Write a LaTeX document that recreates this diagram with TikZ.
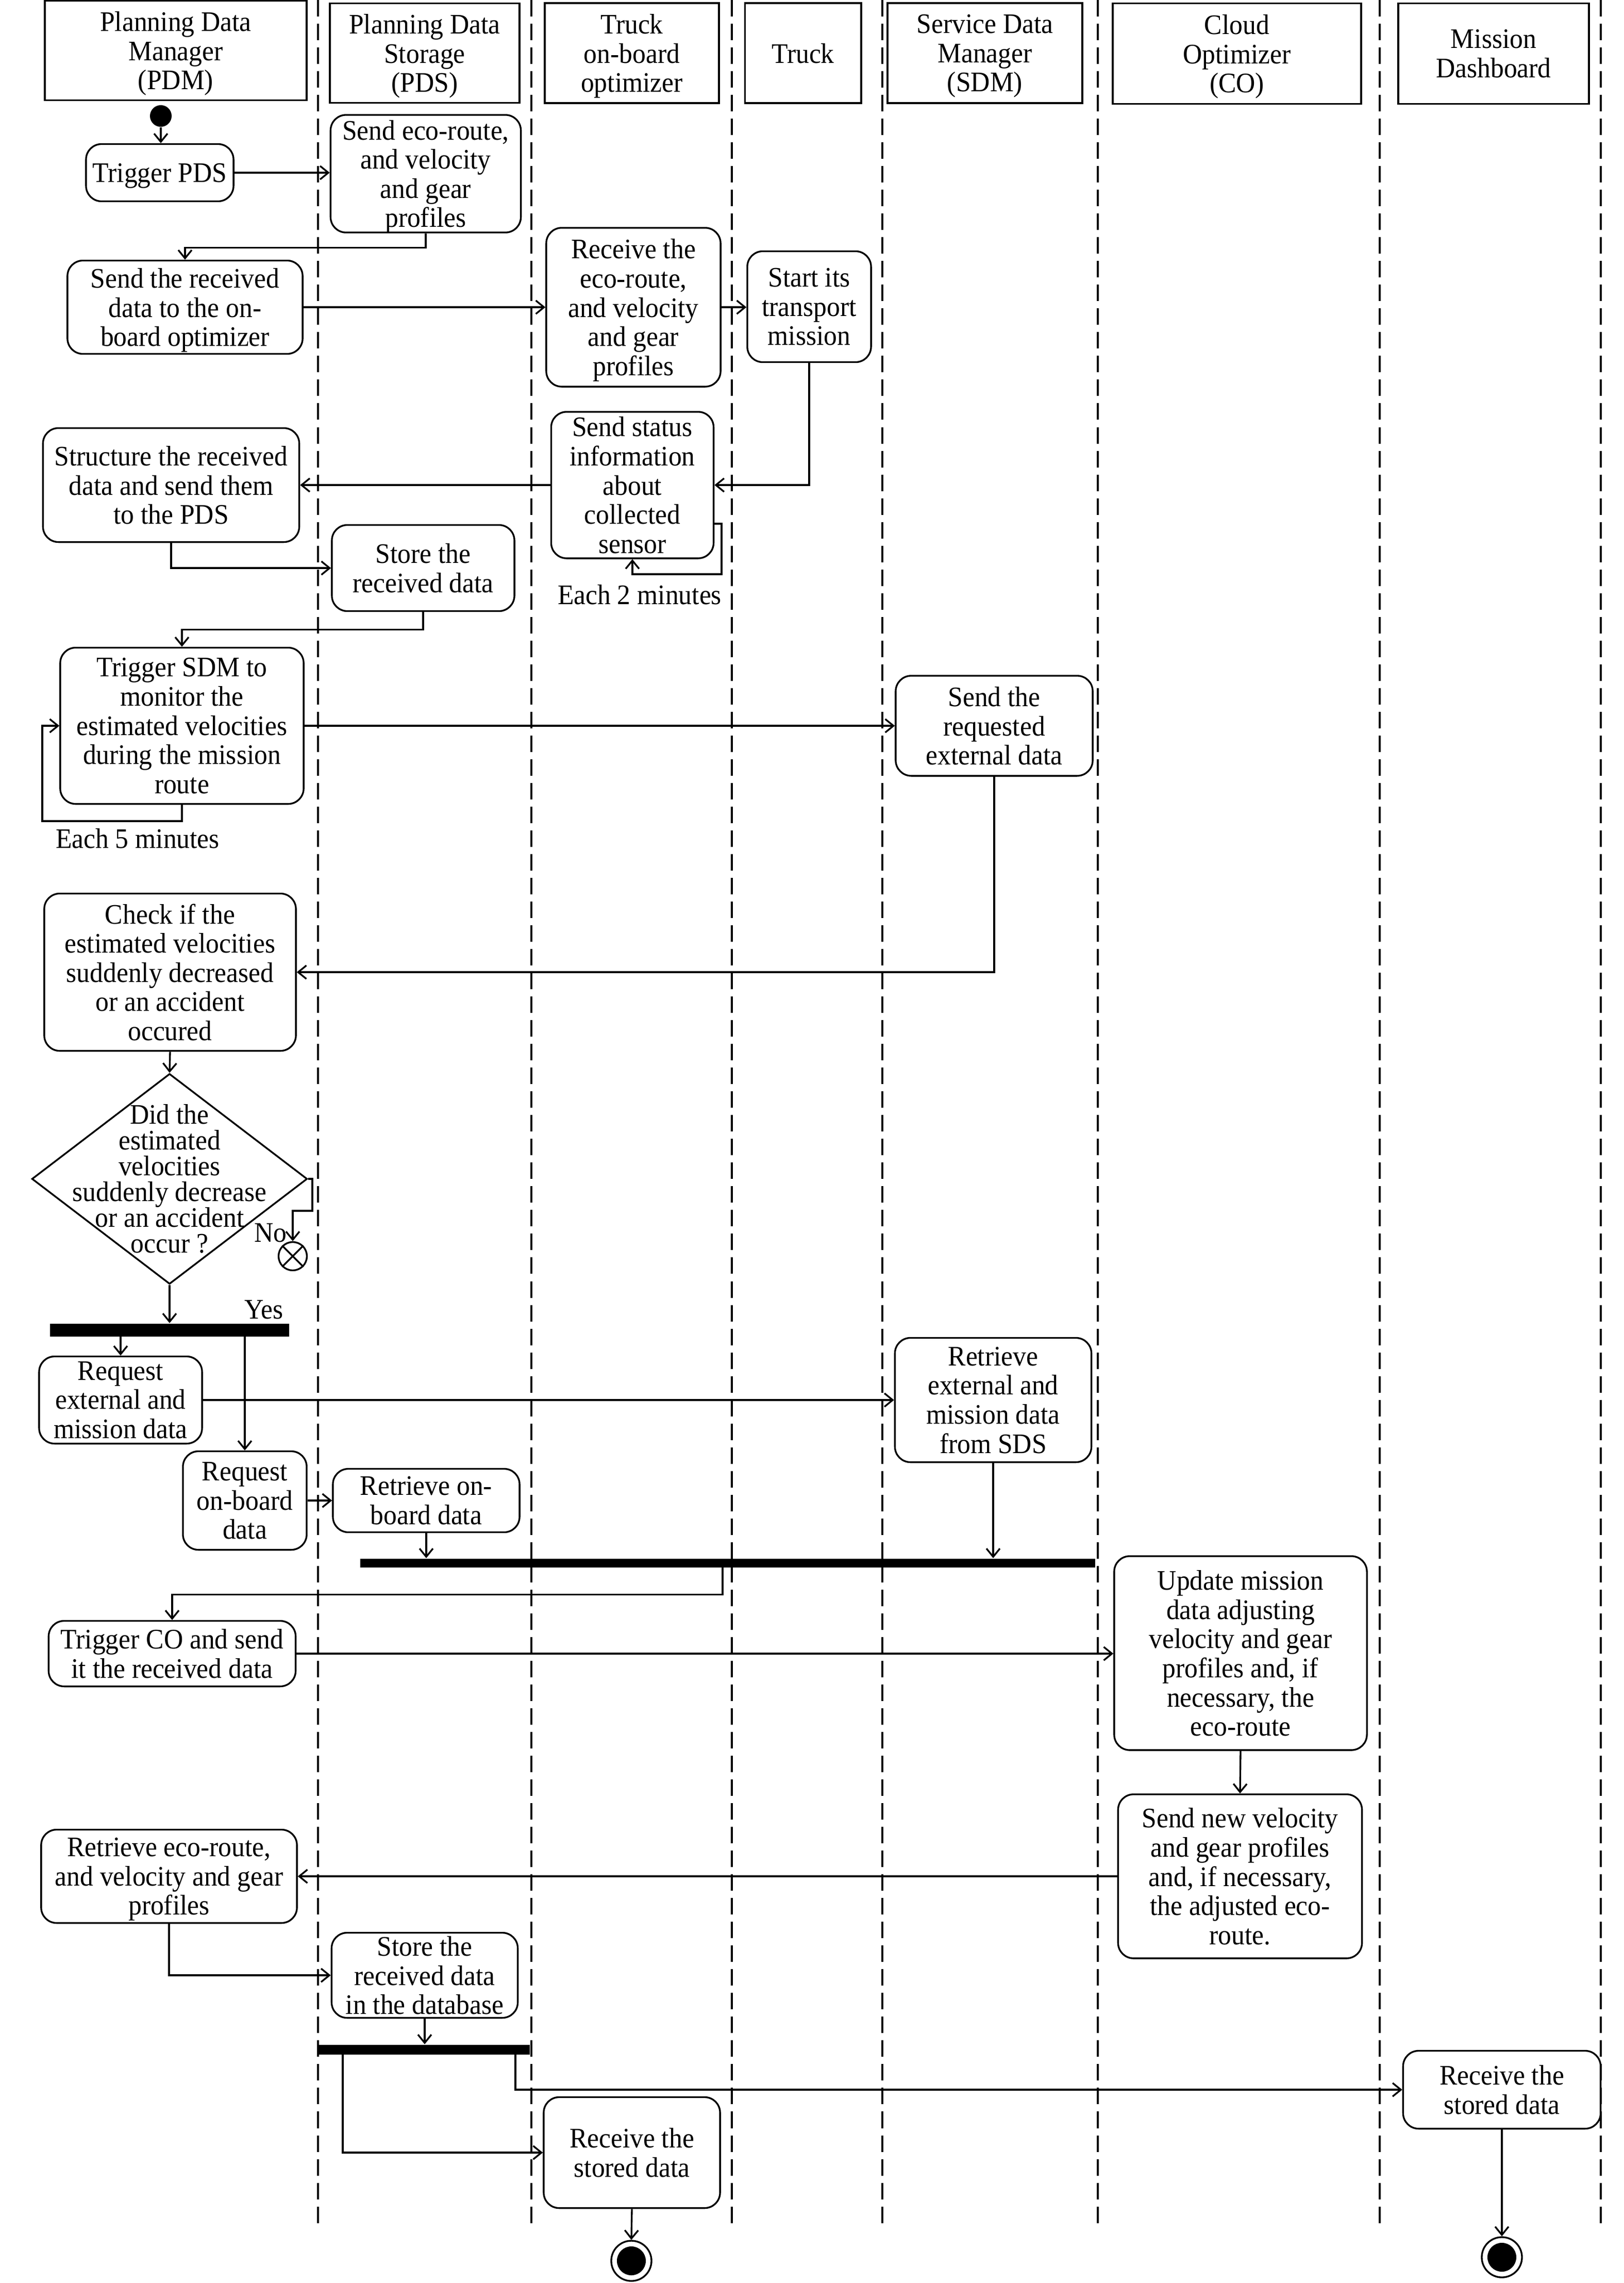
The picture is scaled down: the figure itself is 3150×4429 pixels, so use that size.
\documentclass[tikz,border=0pt]{standalone}
\usepackage{fontspec}
\setmainfont{Liberation Serif}[FakeStretch=0.94]
\usetikzlibrary{arrows.meta,shapes.geometric,calc}
\newcommand{\myfs}{\fontsize{15.6}{16.1}\selectfont}
\newcommand{\myfsd}{\fontsize{15.6}{14.2}\selectfont}
\tikzset{
  lane/.style={dash pattern=on 0.32cm off 0.14cm, line width=1.3pt},
  hdr/.style={draw, line width=1.1pt, align=center, inner sep=0pt, font=\myfs, text depth=0pt},
  act/.style={draw, rounded corners=0.3cm, line width=0.95pt, align=center, inner sep=0pt, font=\myfs, text depth=0pt},
  arr/.style={line width=0.95pt, -{Straight Barb[length=1.6mm,width=2.6mm]}},
  bar/.style={fill=black, draw=none, inner sep=0pt},
  lbl/.style={font=\myfs, inner sep=0pt},
}
\begin{document}
\begin{tikzpicture}[x=0.01cm,y=-0.01cm]
\useasboundingbox (0,0) rectangle (3150,4429);

% swimlane separators
\foreach \lx in {617,1031,1420,1712,2130,2677,3106}
  \draw[lane] (\lx,0) -- (\lx,4325);

% headers
\node[hdr, minimum width=5.08cm, minimum height=1.93cm] (hPDM) at (341,98) {Planning Data\\Manager\\(PDM)};
\node[hdr, minimum width=3.68cm, minimum height=1.93cm] (hPDS) at (824,103) {Planning Data\\Storage\\(PDS)};
\node[hdr, minimum width=3.38cm, minimum height=1.94cm] (hTO) at (1226,103) {Truck\\on-board\\optimizer};
\node[hdr, minimum width=2.25cm, minimum height=1.94cm] (hTR) at (1558,103) {Truck};
\node[hdr, minimum width=3.78cm, minimum height=1.94cm] (hSDM) at (1911,103) {Service Data\\Manager\\(SDM)};
\node[hdr, minimum width=4.81cm, minimum height=1.95cm] (hCO) at (2400,104) {Cloud\\Optimizer\\(CO)};
\node[hdr, minimum width=3.70cm, minimum height=1.95cm] (hMD) at (2898,104) {Mission\\Dashboard};

% start
\node[circle, fill=black, inner sep=0pt, minimum size=0.42cm] (start) at (312,225) {};

% activities
\node[act, minimum width=2.86cm, minimum height=1.11cm] (a1) at (310,335) {Trigger PDS};
\node[act, minimum width=3.69cm, minimum height=2.28cm] (a2) at (826,337) {Send eco-route,\\and velocity\\and gear\\profiles};
\node[act, minimum width=4.56cm, minimum height=1.81cm] (a3) at (359,596) {Send the received\\data to the on-\\board optimizer};
\node[act, minimum width=3.38cm, minimum height=3.08cm] (a4) at (1229,596) {Receive the\\eco-route,\\and velocity\\and gear\\profiles};
\node[act, minimum width=2.40cm, minimum height=2.15cm] (a5) at (1570,595) {Start its\\transport\\mission};
\node[act, minimum width=3.15cm, minimum height=2.84cm] (a6) at (1227,941) {Send status\\information\\about\\collected\\sensor};
\node[act, minimum width=4.97cm, minimum height=2.21cm] (a7) at (332,941) {Structure the received\\data and send them\\to the PDS};
\node[act, minimum width=3.54cm, minimum height=1.67cm] (a8) at (821,1102) {Store the\\received data};
\node[act, minimum width=4.72cm, minimum height=3.03cm] (a9) at (353,1408) {Trigger SDM to\\monitor the\\estimated velocities\\during the mission\\route};
\node[act, minimum width=3.82cm, minimum height=1.94cm] (a10) at (1929,1408) {Send the\\requested\\external data};
\node[act, minimum width=4.88cm, minimum height=3.05cm] (a11) at (330,1886) {Check if the\\estimated velocities\\suddenly decreased\\or an accident\\occured};

% decision
\node[diamond, draw, line width=0.95pt, inner sep=0pt, minimum width=5.34cm, minimum height=4.08cm,
      label={[font=\myfsd, align=center, inner sep=0pt]center:{Did the\\estimated\\velocities\\suddenly decrease\\or an accident\\occur ?}}] (d1) at (329,2287) {};
\node[circle, draw, line width=0.95pt, inner sep=0pt, minimum size=0.55cm] (ff) at (568,2437) {};
\draw[line width=0.95pt] (ff.north west) -- (ff.south east) (ff.north east) -- (ff.south west);

\node[bar, minimum width=4.64cm, minimum height=0.25cm] (bar1) at (329,2580) {};
\node[act, minimum width=3.16cm, minimum height=1.69cm] (a12) at (234,2716) {Request\\external and\\mission data};
\node[act, minimum width=2.40cm, minimum height=1.91cm] (a13) at (475,2911) {Request\\on-board\\data};
\node[act, minimum width=3.62cm, minimum height=1.23cm] (a14) at (827,2911) {Retrieve on-\\board data};
\node[act, minimum width=3.81cm, minimum height=2.41cm] (a15) at (1927,2716) {Retrieve\\external and\\mission data\\from SDS};
\node[bar, minimum width=14.25cm, minimum height=0.17cm] (bar2) at (1412,3032) {};
\node[act, minimum width=4.79cm, minimum height=1.27cm] (a16) at (334,3208) {Trigger CO and send\\it the received data};
\node[act, minimum width=4.90cm, minimum height=3.76cm] (a17) at (2407,3207) {Update mission\\data adjusting\\velocity and gear\\profiles and, if\\necessary, the\\eco-route};
\node[act, minimum width=4.73cm, minimum height=3.18cm] (a18) at (2406,3640) {Send new velocity\\and gear profiles\\and, if necessary,\\the adjusted eco-\\route.};
\node[act, minimum width=4.96cm, minimum height=1.81cm] (a19) at (328,3640) {Retrieve eco-route,\\and velocity and gear\\profiles};
\node[act, minimum width=3.61cm, minimum height=1.65cm] (a20) at (824,3832) {Store the\\received data\\in the database};
\node[bar, minimum width=4.11cm, minimum height=0.19cm] (bar3) at (822,3976) {};
\node[act, minimum width=3.42cm, minimum height=2.15cm] (a21) at (1226,4176) {Receive the\\stored data};
\node[act, minimum width=3.83cm, minimum height=1.51cm] (a22) at (2914,4054) {Receive the\\stored data};

% end nodes
\node[circle, draw, line width=0.95pt, inner sep=0pt, minimum size=0.78cm] (end1) at (1225,4386) {};
\fill (end1.center) circle (0.28cm);
\node[circle, draw, line width=0.95pt, inner sep=0pt, minimum size=0.78cm] (end2) at (2914,4379) {};
\fill (end2.center) circle (0.28cm);

% labels
\node[lbl] (t2) at (1241,1154) {Each 2 minutes};
\node[lbl] (t5) at (267,1627) {Each 5 minutes};
\node[lbl] (tno) at (525,2392) {No};
\node[lbl] (tyes) at (512,2541) {Yes};

% helper coordinates
\coordinate (l6) at (1400,1114);
\coordinate (l9) at (82,1593);
\coordinate (n1) at (606,2349);

% connectors
\draw[arr] (start.south) -- (a1.north -| start.south);
\draw[arr] (a1.east) -- (a1.east -| a2.west);
\draw[arr] (a2.south) -- ++(0,28) -| (a3.north);
\draw[arr] (a3.east) -- (a3.east -| a4.west);
\draw[arr] (a4.east) -- (a4.east -| a5.west);
\draw[arr] (a5.south) |- (a6.east);
\draw[arr] (a6.west) -- (a6.west -| a7.east);
\draw[arr] ([yshift=-0.75cm]a6.east) -| (l6) -| (a6.south);
\draw[arr] (a7.south) |- (a8.west);
\draw[arr] (a8.south) -- ++(0,34) -| (a9.north);
\draw[arr] (a9.east) -- (a9.east -| a10.west);
\draw[arr] (a9.south) |- (l9) |- (a9.west);
\draw[arr] (a10.south) |- (a11.east);
\draw[arr] (a11.south) -- (d1.north);
\draw[arr] (d1.east) -| (n1) -| (ff.north);
\draw[arr] (d1.south) -- (bar1.north -| d1.south);
\draw[arr] (bar1.south -| a12.north) -- (a12.north);
\draw[arr] (bar1.south -| a13.north) -- (a13.north);
\draw[arr] (a12.east) -- (a12.east -| a15.west);
\draw[arr] (a13.east) -- (a13.east -| a14.west);
\draw[arr] (a14.south) -- (bar2.north -| a14.south);
\draw[arr] (a15.south) -- (bar2.north -| a15.south);
\draw[arr] ([xshift=-0.1cm]bar2.south) -- ++(0,52) -| (a16.north);
\draw[arr] (a16.east) -- (a16.east -| a17.west);
\draw[arr] (a17.south) -- (a18.north);
\draw[arr] (a18.west) -- (a18.west -| a19.east);
\draw[arr] (a19.south) |- (a20.west);
\draw[arr] (a20.south) -- (bar3.north -| a20.south);
\draw[arr] ([xshift=-1.57cm]bar3.south) |- (a21.west);
\draw[arr] ([xshift=1.78cm]bar3.south) |- (a22.west);
\draw[arr] (a21.south) -- (end1.north);
\draw[arr] (a22.south) -- (end2.north);
\end{tikzpicture}
\end{document}
